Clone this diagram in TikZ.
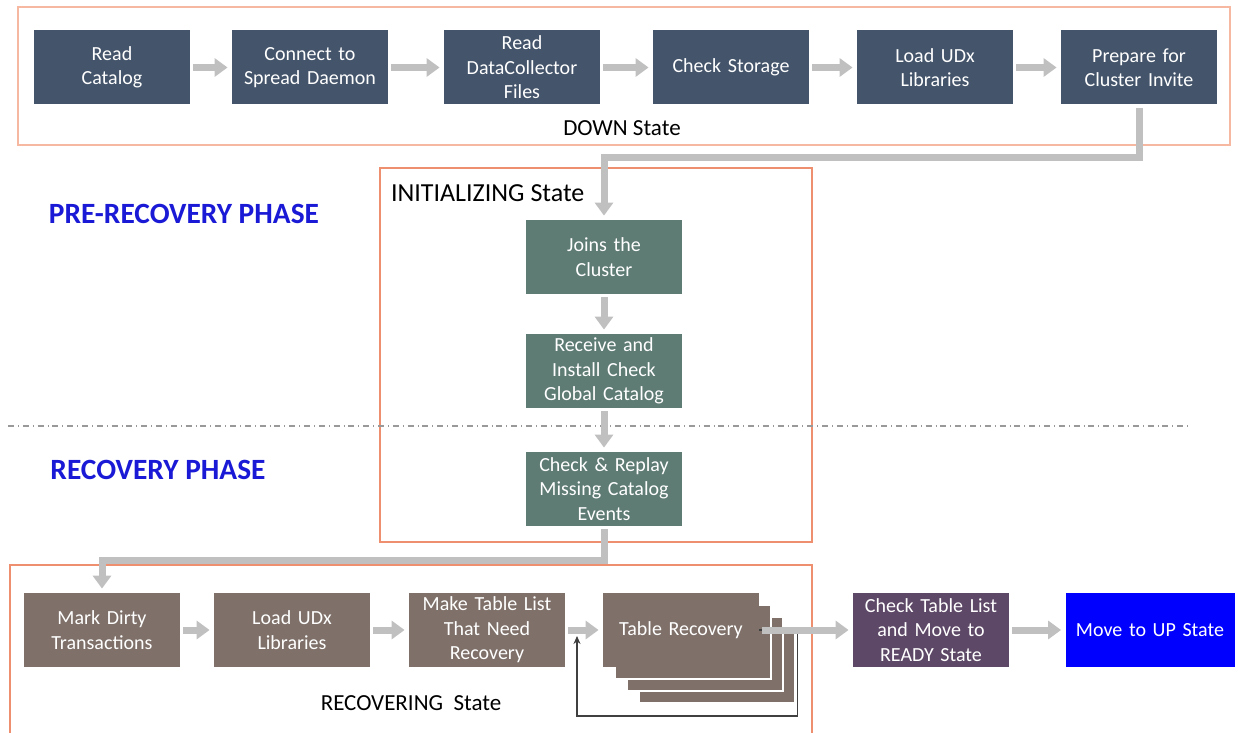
\documentclass[tikz,border=0pt]{standalone}
\usepackage{fontspec}
\setmainfont{Carlito}
\usetikzlibrary{arrows.meta}
\definecolor{downfill}{HTML}{44546A}
\definecolor{initfill}{HTML}{5E7B74}
\definecolor{recfill}{HTML}{7F716A}
\definecolor{readyfill}{HTML}{5E4867}
\definecolor{upfill}{HTML}{0000FF}
\definecolor{arrgray}{HTML}{C0C0C0}
\definecolor{framered}{HTML}{EE9070}
\definecolor{framelight}{HTML}{F6B8A0}
\definecolor{phaseblue}{HTML}{1A1AD6}

\begin{document}
\begin{tikzpicture}[x=0.5pt, y=-0.5pt,
  box/.style={minimum width=77.5pt, minimum height=37pt, inner sep=1pt,
    text width=76pt, align=center, text=white,
    font=\fontsize{10}{12.2}\selectfont},
  downbox/.style={box, fill=downfill},
  initbox/.style={box, fill=initfill},
  recbox/.style={box, fill=recfill},
  arr/.style={-{Triangle[width=9pt,length=6.5pt]}, line width=3.5pt,
    draw=arrgray, shorten <=1.5pt, shorten >=2pt},
  fb/.style={-{Stealth[length=4pt,width=3.5pt]}, line width=0.6pt, draw=black!75},
  frame/.style={draw=framered, line width=0.8pt},
  statelabel/.style={font=\fontsize{11.5}{13}\selectfont},
  phase/.style={text=phaseblue, font=\fontsize{14.7}{16}\selectfont\bfseries}
]
  \useasboundingbox (0,0) rectangle (1238,733);

  % frames and phase separator
  \draw[frame, draw=framelight] (18,7) rectangle (1230,145);
  \draw[frame] (380,168) rectangle (812,542);
  \draw[frame] (10,733) -- (10,565) -- (812,565) -- (812,733);
  \draw[gray!80, dash dot, line width=0.6pt] (8,426) -- (1190,426);

  \node[statelabel] (down) at (622,128) {DOWN State};
  \node[statelabel, anchor=west, font=\fontsize{13}{14}\selectfont] (init) at (384,193) {INITIALIZING State};
  \node[statelabel] (recov) at (411,703) {RECOVERING~~State};
  \node[phase] (pre) at (184,214) {PRE-RECOVERY PHASE};
  \node[phase] (rec) at (158,470) {RECOVERY PHASE};

  % DOWN state
  \node[downbox] (rc) at (112,67.5) {Read\\Catalog};
  \node[downbox] (csd) at (310,67.5) {Connect to\\Spread Daemon};
  \node[downbox] (rdc) at (522,67.5) {Read\\DataCollector\\Files};
  \node[downbox] (cs) at (731,67.5) {Check Storage};
  \node[downbox] (lud) at (935,67.5) {Load UDx\\Libraries};
  \node[downbox] (pfci) at (1139,67.5) {Prepare for\\Cluster Invite};

  % INITIALIZING state
  \node[initbox] (jtc) at (604,257) {Joins the\\Cluster};
  \node[initbox] (ric) at (604,371) {Receive and\\Install Check\\Global Catalog};
  \node[initbox] (cre) at (604,489) {Check \& Replay\\Missing Catalog\\Events};

  % RECOVERING state
  \node[recbox] (mdt) at (102,630) {Mark Dirty\\Transactions};
  \node[recbox] (lul) at (292,630) {Load UDx\\Libraries};
  \node[recbox] (mtl) at (487,630) {Make Table List\\That Need\\Recovery};
  \foreach \i/\d in {3/36,2/24,1/12}
    \node[recbox, draw=white, line width=0.8pt] (tr\i) at (681+\d,630+\d) {};
  \node[recbox] (tr) at (681,630) {Table Recovery};
  \node[box, fill=readyfill] (ctl) at (931,630) {Check Table List\\and Move to\\READY State};
  \node[box, fill=upfill, minimum width=84.5pt] (mus) at (1150,630) {Move to UP State};
  \coordinate (fbin) at (577,636);

  \draw[arr] (rc) -- (csd);
  \draw[arr] (csd) -- (rdc);
  \draw[arr] (rdc) -- (cs);
  \draw[arr] (cs) -- (lud);
  \draw[arr] (lud) -- (pfci);
  \draw[arr] (pfci.south) -- ++(0,53) -| (jtc.north);
  \draw[arr] (jtc) -- (ric);
  \draw[arr] (ric) -- (cre);
  \draw[arr] (cre.south) -- ++(0,34) -| (mdt.north);
  \draw[arr] (mdt) -- (lul);
  \draw[arr] (lul) -- (mtl);
  \draw[arr] (mtl) -- (tr);
  \draw[fb] (tr.east) -- ++(38,0) -- ++(0,86) -| (fbin);
  \draw[arr] (tr) -- (ctl);
  \draw[arr] (ctl) -- (mus);
\end{tikzpicture}
\end{document}
